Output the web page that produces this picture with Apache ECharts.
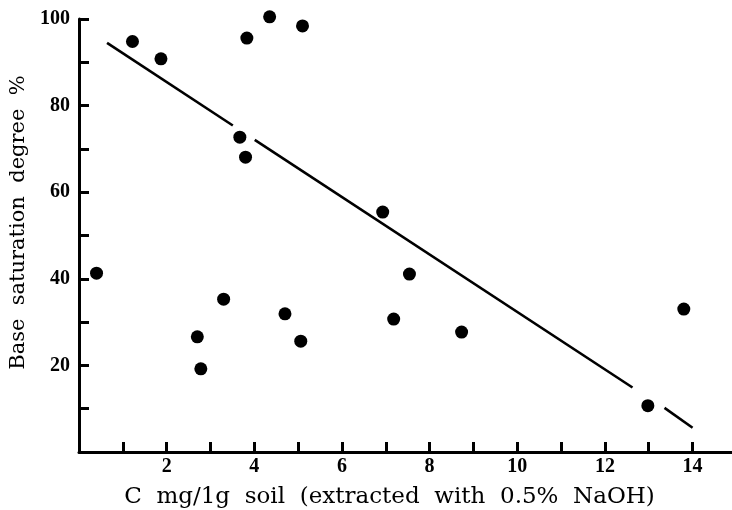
<!DOCTYPE html>
<html>
<head>
<meta charset="utf-8">
<script src="https://cdn.jsdelivr.net/npm/echarts@6/dist/echarts.min.js"></script>
<style>html,body{margin:0;padding:0;background:#fff;}#c{width:732px;height:510px;}</style>
</head>
<body>
<div id="c"></div>
<script>
// Observed points
const xValues = [0.40, 1.22, 1.87, 3.67, 3.80, 3.83, 4.35, 5.10, 2.70, 2.78, 3.30, 4.70, 5.06, 6.93, 7.54, 7.18, 8.73, 12.98, 13.80];
const yValues = [41.3, 94.8, 90.8, 72.7, 68.1, 95.6, 100.5, 98.4, 26.6, 19.2, 35.3, 31.9, 25.6, 55.4, 41.1, 30.7, 27.7, 10.7, 33.0];
// Regression line, drawn in pieces (broken around dots as in the original)
const fitX = [[0.64, 3.51], [4.01, 12.63], [13.36, 14.0]];
const fitY = [[94.5, 75.4], [72.1, 14.9], [10.2, 5.6]];
// Axis labels
const xTickLabels = [2, 4, 6, 8, 10, 12, 14];
const yTickLabels = [20, 40, 60, 80, 100];
const xTitle = 'C  mg/1g  soil  (extracted  with  0.5%  NaOH)';
const yTitle = 'Base  saturation  degree  %';

const font = 'Liberation Serif';
const titleFont = 'DejaVu Serif';
const chart = echarts.init(document.getElementById('c'), null, {renderer: 'canvas'});
const points = xValues.map((x, i) => [x, yValues[i]]);
const lineSeries = fitX.map((xs, k) => ({
  type: 'line',
  data: xs.map((x, j) => [x, fitY[k][j]]),
  symbol: 'none',
  lineStyle: {color: '#000', width: 2.6},
  silent: true,
  z: 2
}));
const axisCommon = {
  axisLine: {lineStyle: {color: '#000', width: 3}},
  axisTick: {inside: true, length: 10, lineStyle: {color: '#000', width: 3}},
  splitLine: {show: false}
};
chart.setOption({
  animation: false,
  backgroundColor: '#fff',
  grid: {left: 79, right: 0, top: 19, bottom: 58, containLabel: false, outerBoundsMode: 'none'},
  xAxis: Object.assign({}, axisCommon, {
    type: 'value', min: 0, max: 14.9, interval: 1,
    name: xTitle, nameLocation: 'middle', nameGap: 34,
    nameTextStyle: {fontFamily: titleFont, fontSize: 23, color: '#000', padding: [0, 32, 0, 0]},
    axisLabel: {
      fontFamily: font, fontSize: 20, fontWeight: 'bold', color: '#000', margin: 5,
      showMaxLabel: false,
      formatter: v => xTickLabels.indexOf(v) >= 0 ? String(v) : ''
    }
  }),
  yAxis: Object.assign({}, axisCommon, {
    type: 'value', min: 0, max: 100, interval: 10,
    name: yTitle, nameLocation: 'middle', nameGap: 46, nameRotate: 90,
    nameTextStyle: {fontFamily: titleFont, fontSize: 21, color: '#000', padding: [0, 0, 0, 26]},
    axisLabel: {
      fontFamily: font, fontSize: 20, fontWeight: 'bold', color: '#000', margin: 9,
      formatter: v => yTickLabels.indexOf(v) >= 0 ? String(v) : ''
    }
  }),
  series: lineSeries.concat([{
    type: 'scatter',
    data: points,
    symbol: 'circle',
    symbolSize: 13,
    clip: false,
    itemStyle: {color: '#000', opacity: 1},
    z: 3
  }])
});
</script>
</body>
</html>
